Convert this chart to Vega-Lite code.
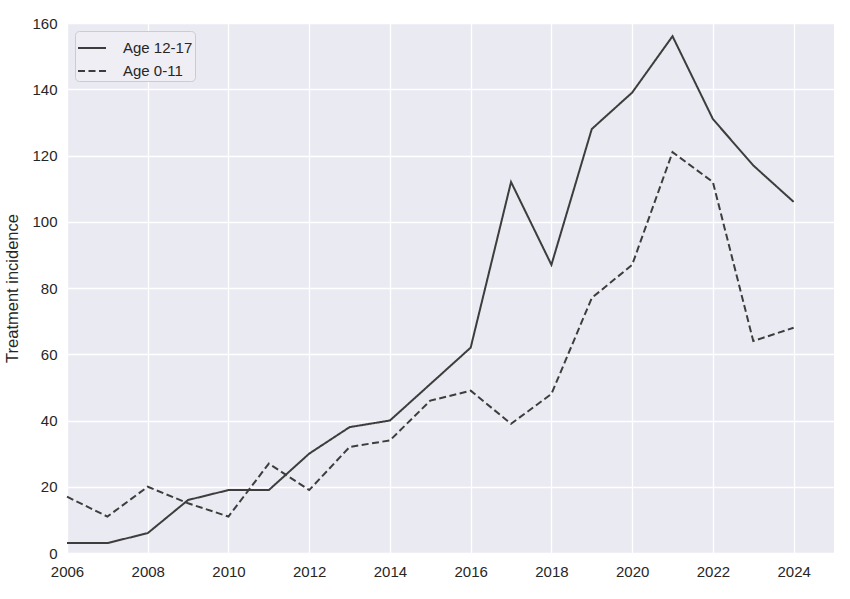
{
  "$schema": "https://vega.github.io/schema/vega-lite/v6.json",
  "width": 767,
  "height": 530,
  "autosize": {"type": "none"},
  "padding": {"left": 67, "top": 23, "right": 16, "bottom": 46},
  "background": "white",
  "config": {
    "view": {"fill": "#EAEAF2", "stroke": null},
    "font": "Liberation Sans",
    "axis": {
      "grid": true,
      "gridColor": "white",
      "gridWidth": 1.3,
      "domain": false,
      "ticks": false,
      "labelFont": "Liberation Sans",
      "labelFontSize": 15,
      "labelColor": "#262626",
      "titleFont": "Liberation Sans",
      "titleFontSize": 16.5,
      "titleFontWeight": "normal",
      "titleColor": "#262626"
    }
  },
  "data": {
    "values": [
      {"year": 2006, "group": "Age 12-17", "value": 3},
      {"year": 2007, "group": "Age 12-17", "value": 3},
      {"year": 2008, "group": "Age 12-17", "value": 6},
      {"year": 2009, "group": "Age 12-17", "value": 16},
      {"year": 2010, "group": "Age 12-17", "value": 19},
      {"year": 2011, "group": "Age 12-17", "value": 19},
      {"year": 2012, "group": "Age 12-17", "value": 30},
      {"year": 2013, "group": "Age 12-17", "value": 38},
      {"year": 2014, "group": "Age 12-17", "value": 40},
      {"year": 2015, "group": "Age 12-17", "value": 51},
      {"year": 2016, "group": "Age 12-17", "value": 62},
      {"year": 2017, "group": "Age 12-17", "value": 112},
      {"year": 2018, "group": "Age 12-17", "value": 87},
      {"year": 2019, "group": "Age 12-17", "value": 128},
      {"year": 2020, "group": "Age 12-17", "value": 139},
      {"year": 2021, "group": "Age 12-17", "value": 156},
      {"year": 2022, "group": "Age 12-17", "value": 131},
      {"year": 2023, "group": "Age 12-17", "value": 117},
      {"year": 2024, "group": "Age 12-17", "value": 106},
      {"year": 2006, "group": "Age 0-11", "value": 17},
      {"year": 2007, "group": "Age 0-11", "value": 11},
      {"year": 2008, "group": "Age 0-11", "value": 20},
      {"year": 2009, "group": "Age 0-11", "value": 15},
      {"year": 2010, "group": "Age 0-11", "value": 11},
      {"year": 2011, "group": "Age 0-11", "value": 27},
      {"year": 2012, "group": "Age 0-11", "value": 19},
      {"year": 2013, "group": "Age 0-11", "value": 32},
      {"year": 2014, "group": "Age 0-11", "value": 34},
      {"year": 2015, "group": "Age 0-11", "value": 46},
      {"year": 2016, "group": "Age 0-11", "value": 49},
      {"year": 2017, "group": "Age 0-11", "value": 39},
      {"year": 2018, "group": "Age 0-11", "value": 48},
      {"year": 2019, "group": "Age 0-11", "value": 77},
      {"year": 2020, "group": "Age 0-11", "value": 87},
      {"year": 2021, "group": "Age 0-11", "value": 121},
      {"year": 2022, "group": "Age 0-11", "value": 112},
      {"year": 2023, "group": "Age 0-11", "value": 64},
      {"year": 2024, "group": "Age 0-11", "value": 68}
    ]
  },
  "mark": {"type": "line", "color": "#3d3d3d", "strokeWidth": 2},
  "encoding": {
    "x": {
      "field": "year",
      "type": "quantitative",
      "scale": {"domain": [2006, 2025], "nice": false, "zero": false},
      "axis": {"title": null, "values": [2006, 2008, 2010, 2012, 2014, 2016, 2018, 2020, 2022, 2024], "format": "d", "labelPadding": 11, "labelFlush": false}
    },
    "y": {
      "field": "value",
      "type": "quantitative",
      "scale": {"domain": [0, 160], "nice": false},
      "axis": {"title": "Treatment incidence", "values": [0, 20, 40, 60, 80, 100, 120, 140, 160], "labelPadding": 10, "titlePadding": 11}
    },
    "strokeDash": {
      "field": "group",
      "type": "nominal",
      "scale": {"domain": ["Age 12-17", "Age 0-11"], "range": [[1, 0], [7, 3.5]]},
      "legend": {
        "title": null,
        "orient": "top-left",
        "offset": 8,
        "fillColor": "#EEEEF4",
        "strokeColor": "#cccccc",
        "cornerRadius": 4,
        "padding": 2,
        "symbolType": "stroke",
        "symbolSize": 784,
        "symbolStrokeColor": "#3d3d3d",
        "symbolStrokeWidth": 2,
        "labelFont": "Liberation Sans",
        "labelFontSize": 15,
        "labelColor": "#262626",
        "rowPadding": -4,
        "labelOffset": 16
      }
    }
  }
}
